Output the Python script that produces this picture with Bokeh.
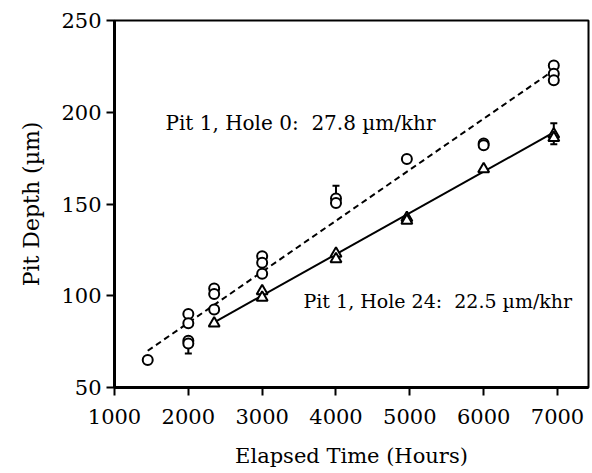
from bokeh.plotting import figure
from bokeh.models import Range1d, Label, FixedTicker, ColumnDataSource, Whisker
from bokeh.embed import file_html
from bokeh.resources import INLINE

# Pit 1, Hole 0 (circles)
hole0_x = [1450, 2000, 2000, 2000, 2000, 2350, 2350, 2350, 3000, 3000, 3000,
           4000, 4000, 4960, 6000, 6000, 6950, 6950, 6950]
hole0_y = [65, 90, 85, 75.5, 74, 104, 101, 92.5, 121.5, 118, 112,
           153, 150.5, 174.5, 183, 182, 225.5, 221, 217.5]

# Pit 1, Hole 24 (triangles)
hole24_x = [2350, 3000, 3000, 4000, 4000, 4960, 4960, 6000, 6950, 6950]
hole24_y = [85, 102.5, 99, 123, 120, 142.5, 141, 169, 188, 186]

# error bars
err_x = [2000, 4000, 6950]
err_lo = [68.5, 150.5, 182.5]
err_hi = [74, 160, 194]

# fitted lines (endpoints)
fit0_x = [1450, 6900]
fit0_y = [70, 221.5]
fit24_x = [2350, 6950]
fit24_y = [85.5, 189]

x_ticks = [1000, 2000, 3000, 4000, 5000, 6000, 7000]
y_ticks = [50, 100, 150, 200, 250]

NB = "\u00a0"
label0 = "Pit 1, Hole 0:" + NB + NB + "27.8 \u00b5m/khr"
label24 = "Pit 1, Hole 24:" + NB + NB + "22.5 \u00b5m/khr"

FONT = "DejaVu Serif"

p = figure(width=590, height=471, output_backend="svg", toolbar_location=None,
           x_range=Range1d(1000, 7420), y_range=Range1d(50, 250),
           min_border_left=114, min_border_right=2, min_border_top=20,
           min_border_bottom=84)
p.background_fill_color = "white"
p.border_fill_color = "white"
p.outline_line_color = "black"
p.outline_line_width = 2
p.grid.visible = False

for ax in (p.xaxis[0], p.yaxis[0]):
    ax.axis_line_width = 3
    ax.major_tick_line_width = 2
    ax.major_tick_out = 8
    ax.major_tick_in = 0
    ax.minor_tick_out = 0
    ax.minor_tick_in = 0
    ax.major_label_text_font = FONT
    ax.major_label_text_font_size = "21px"
    ax.major_label_text_color = "black"
    ax.axis_label_text_font = FONT
    ax.axis_label_text_font_style = "normal"
    ax.axis_label_text_color = "black"

p.xaxis.axis_label_text_font_size = "21px"
p.yaxis.axis_label_text_font_size = "22px"
p.xaxis.ticker = FixedTicker(ticks=x_ticks)
p.yaxis.ticker = FixedTicker(ticks=y_ticks)
p.xaxis.axis_label = "Elapsed Time (Hours)"
p.yaxis.axis_label = "Pit Depth (\u00b5m)"
p.xaxis.major_label_standoff = 13
p.yaxis.major_label_standoff = 5
p.xaxis.axis_label_standoff = 17
p.yaxis.axis_label_standoff = 14

p.line(fit0_x, fit0_y, line_color="black", line_width=2, line_dash="6 4")
p.line(fit24_x, fit24_y, line_color="black", line_width=2)

src_err = ColumnDataSource(dict(x=err_x, lo=err_lo, hi=err_hi))
w = Whisker(source=src_err, base="x", lower="lo", upper="hi",
            line_color="black", line_width=2)
w.upper_head.size = 7
w.lower_head.size = 7
w.upper_head.line_width = 2
w.lower_head.line_width = 2
p.add_layout(w)

p.scatter(hole0_x, hole0_y, marker="circle", size=10, fill_color="white",
          line_color="black", line_width=2)
p.scatter(hole24_x, hole24_y, marker="triangle", size=11, fill_color="white",
          line_color="black", line_width=2)

p.add_layout(Label(x=1690, y=194.4, text=label0, text_font=FONT,
                   text_font_size="20px", text_baseline="middle",
                   text_color="black"))
p.add_layout(Label(x=3560, y=97.4, text=label24, text_font=FONT,
                   text_font_size="19px", text_baseline="middle",
                   text_color="black"))

open("out.html", "w").write(file_html(p, INLINE))
